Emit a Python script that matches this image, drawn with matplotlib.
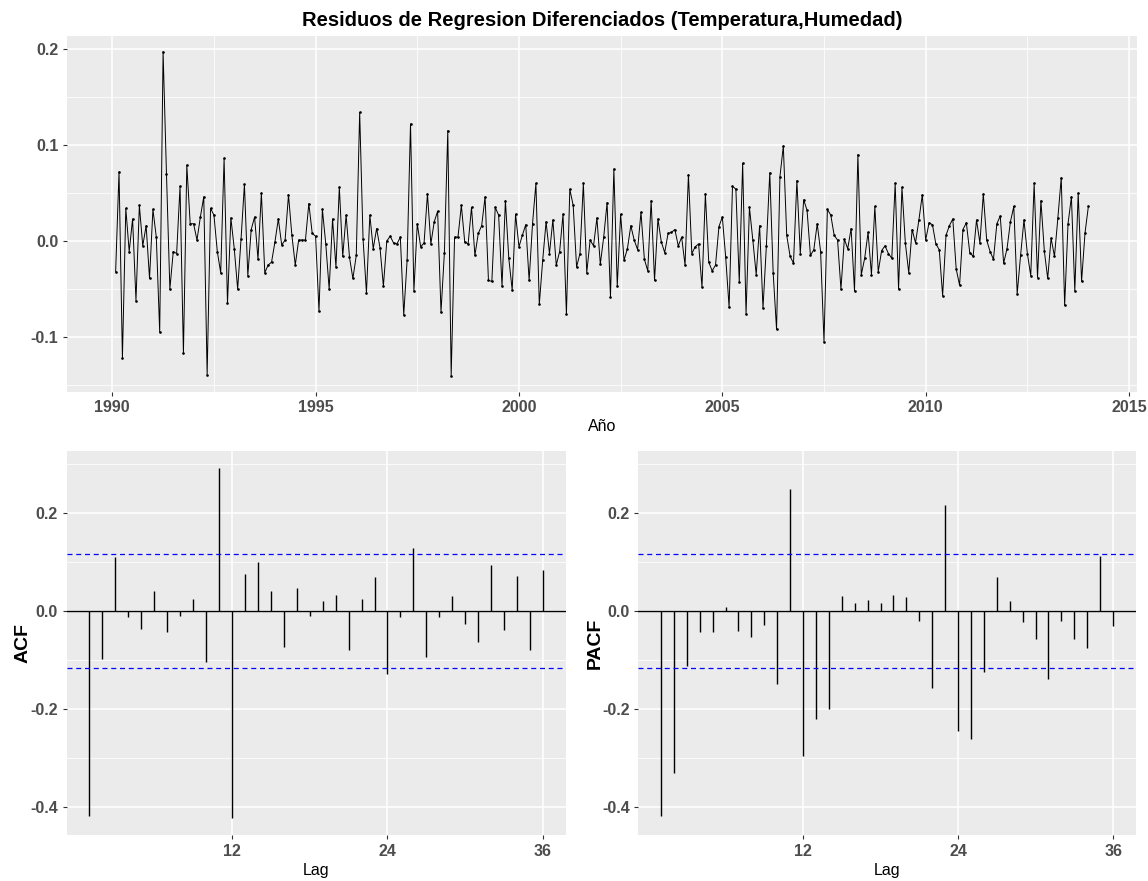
import numpy as np
import matplotlib.pyplot as plt
from matplotlib.ticker import MultipleLocator, FormatStrFormatter

plt.rcParams['font.family'] = ['Liberation Sans', 'DejaVu Sans']
plt.rcParams['axes.unicode_minus'] = False

# residuos mensuales diferenciados, desde febrero de 1990
inicio = 1990 + 1/12
residuos = [
    -0.032, 0.072, -0.122, 0.034, -0.011, 0.023, -0.062, 0.037, -0.005, 0.016,
    -0.039, 0.033, 0.004, -0.095, 0.197, 0.070, -0.050, -0.011, -0.013, 0.057,
    -0.117, 0.079, 0.018, 0.018, 0.001, 0.025, 0.046, -0.139, 0.034, 0.027,
    -0.011, -0.033, 0.086, -0.065, 0.024, -0.008, -0.050, 0.002, 0.059, -0.036,
    0.012, 0.025, -0.019, 0.050, -0.033, -0.025, -0.022, -0.001, 0.023, -0.004,
    0.001, 0.048, 0.006, -0.025, 0.001, 0.001, 0.001, 0.039, 0.008, 0.005,
    -0.073, 0.033, -0.003, -0.050, 0.023, -0.027, 0.056, -0.016, 0.027, -0.017,
    -0.039, -0.015, 0.134, 0.002, -0.054, 0.027, -0.008, 0.013, -0.007, -0.047,
    0.000, 0.005, -0.002, -0.003, 0.004, -0.077, -0.020, 0.122, -0.052, 0.018,
    -0.006, -0.002, 0.049, -0.003, 0.020, 0.031, -0.074, -0.012, 0.115, -0.140,
    0.004, 0.004, 0.037, -0.001, -0.003, 0.035, -0.015, 0.008, 0.016, 0.046,
    -0.041, -0.042, 0.035, 0.027, -0.047, 0.042, -0.018, -0.051, 0.028, -0.006,
    0.006, 0.017, -0.041, 0.018, 0.060, -0.066, -0.020, 0.020, -0.013, 0.022,
    -0.025, -0.011, 0.028, -0.076, 0.054, 0.037, -0.027, -0.013, 0.060, -0.033,
    0.001, -0.005, 0.024, -0.024, 0.004, 0.040, -0.058, 0.075, -0.047, 0.028,
    -0.020, -0.008, 0.016, 0.001, -0.009, 0.030, -0.019, -0.031, 0.042, -0.041,
    0.023, -0.001, -0.012, 0.008, 0.009, 0.012, -0.005, 0.004, -0.025, 0.069,
    -0.013, -0.006, -0.003, -0.048, 0.049, -0.022, -0.031, -0.025, 0.015, 0.025,
    -0.017, -0.069, 0.057, 0.054, -0.043, 0.081, -0.076, 0.035, 0.001, -0.035,
    0.016, -0.070, -0.005, 0.071, -0.033, -0.092, 0.067, 0.099, 0.006, -0.016,
    -0.023, 0.063, -0.013, 0.043, 0.032, -0.015, -0.009, 0.018, -0.011, -0.105,
    0.033, 0.027, 0.006, 0.001, -0.050, 0.002, -0.008, 0.013, -0.052, 0.090,
    -0.035, -0.018, 0.009, -0.035, 0.036, -0.032, -0.010, -0.005, -0.013, -0.018,
    0.060, -0.050, 0.056, -0.002, -0.033, 0.012, -0.002, 0.022, 0.048, 0.001,
    0.019, 0.017, -0.003, -0.009, -0.057, 0.006, 0.016, 0.023, -0.029, -0.046,
    0.012, 0.019, -0.012, -0.016, 0.022, -0.002, 0.049, 0.001, -0.011, -0.019,
    0.018, 0.026, -0.023, -0.008, 0.020, 0.036, -0.055, -0.015, 0.022, -0.013,
    -0.036, 0.060, -0.038, 0.042, -0.010, -0.039, 0.003, -0.016, 0.024, 0.066,
    -0.067, 0.018, 0.046, -0.052, 0.050, -0.042, 0.008, 0.036,
]

lags = np.arange(1, 37)
acf = [
    -0.417, -0.099, 0.110, -0.012, -0.038, 0.041, -0.044, -0.010, 0.025, -0.104,
    0.290, -0.421, 0.075, 0.099, 0.041, -0.073, 0.046, -0.010, 0.021, 0.033,
    -0.080, 0.025, 0.068, -0.128, -0.013, 0.129, -0.094, -0.013, 0.031, -0.027,
    -0.063, 0.093, -0.039, 0.070, -0.080, 0.084,
]
pacf = [
    -0.417, -0.331, -0.112, -0.044, -0.044, 0.008, -0.041, -0.053, -0.029, -0.150,
    0.248, -0.295, -0.221, -0.199, 0.030, 0.016, 0.023, 0.016, 0.032, 0.028,
    -0.020, -0.158, 0.216, -0.244, -0.262, -0.125, 0.069, 0.021, -0.022, -0.058,
    -0.139, -0.020, -0.058, -0.076, 0.111, -0.031,
]

n = len(residuos)
limite = 1.96 / np.sqrt(n)
anios = inicio + np.arange(n) / 12

W, H = 1148, 881
fig = plt.figure(figsize=(W / 100, H / 100), dpi=100)


def caja(x0, y0, x1, y1):
    return [x0 / W, 1 - y1 / H, (x1 - x0) / W, (y1 - y0) / H]


def estilo(ax):
    ax.set_facecolor('#EBEBEB')
    for s in ax.spines.values():
        s.set_visible(False)
    ax.set_axisbelow(True)
    ax.grid(which='major', color='white', lw=1.1)
    ax.grid(which='minor', color='white', lw=0.55)
    ax.tick_params(which='major', length=3.2, width=0.8, color='#333333',
                   labelcolor='#4D4D4D', labelsize=11.5, pad=3)
    ax.tick_params(which='minor', length=0)


def expandir(lo, hi, f=0.05):
    d = (hi - lo) * f
    return lo - d, hi + d


# serie de residuos
ax1 = fig.add_axes(caja(67, 35.6, 1137, 391.7))
estilo(ax1)
ax1.plot(anios, residuos, color='black', lw=0.7, marker='o', ms=0.9)
ax1.set_xlim(*expandir(anios[0], anios[-1]))
ax1.set_ylim(*expandir(min(residuos), max(residuos)))
ax1.xaxis.set_major_locator(MultipleLocator(5))
ax1.xaxis.set_minor_locator(MultipleLocator(2.5))
ax1.yaxis.set_major_locator(MultipleLocator(0.1))
ax1.yaxis.set_minor_locator(MultipleLocator(0.05))
ax1.yaxis.set_major_formatter(FormatStrFormatter('%.1f'))
ax1.set_xlabel('Año', fontsize=11.5, labelpad=3)
ax1.set_title('Residuos de Regresion Diferenciados (Temperatura,Humedad)',
              fontsize=14.5, fontweight='bold', pad=7)

# correlogramas con el mismo rango vertical
ylim = expandir(min(min(acf), min(pacf), -limite), max(max(acf), max(pacf), limite))
paneles = [(acf, 'ACF', caja(66.7, 451, 565.7, 835)),
           (pacf, 'PACF', caja(638.3, 451, 1135.7, 835))]
for valores, nombre, pos in paneles:
    ax = fig.add_axes(pos)
    estilo(ax)
    ax.axhline(0, color='black', lw=1.0)
    ax.vlines(lags, 0, valores, color='black', lw=1.0)
    for s in (limite, -limite):
        ax.axhline(s, color='blue', lw=0.9, ls=(0, (4, 3)))
    ax.set_xlim(*expandir(lags[0], lags[-1]))
    ax.set_ylim(*ylim)
    ax.set_xticks([12, 24, 36])
    ax.yaxis.set_major_locator(MultipleLocator(0.2))
    ax.yaxis.set_minor_locator(MultipleLocator(0.1))
    ax.yaxis.set_major_formatter(FormatStrFormatter('%.1f'))
    ax.set_xlabel('Lag', fontsize=11.5, labelpad=3)
    ax.set_ylabel(nombre, fontsize=14, fontweight='bold', labelpad=-1)

for ax in fig.axes:
    for lab in ax.get_xticklabels() + ax.get_yticklabels():
        lab.set_fontweight('bold')

fig.savefig('out.png', dpi=100)
